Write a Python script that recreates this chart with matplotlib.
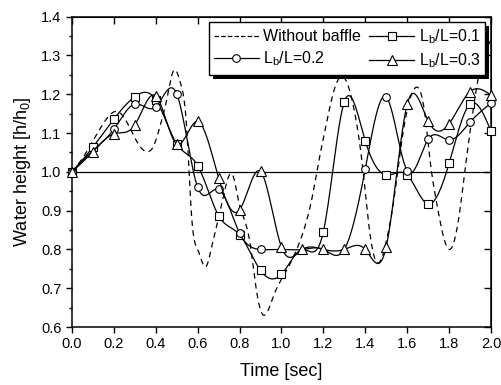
import numpy as np
import matplotlib
matplotlib.use('Agg')
import matplotlib.pyplot as plt
from matplotlib.lines import Line2D
from matplotlib.patches import Rectangle
from matplotlib.transforms import IdentityTransform

plt.rcParams['font.family'] = ['Liberation Sans', 'DejaVu Sans']
plt.rcParams['mathtext.fontset'] = 'custom'
plt.rcParams['mathtext.rm'] = 'Liberation Sans'
plt.rcParams['mathtext.it'] = 'Liberation Sans:italic'

# sampled times for the baffle cases
t = [0.0, 0.1, 0.2, 0.3, 0.4, 0.5, 0.6, 0.7, 0.8, 0.9, 1.0,
     1.1, 1.2, 1.3, 1.4, 1.5, 1.6, 1.7, 1.8, 1.9, 2.0]
h_01 = [1.000, 1.064, 1.136, 1.194, 1.186, 1.072, 1.016, 0.887, 0.838, 0.746, 0.736,
        0.800, 0.846, 1.181, 1.080, 0.992, 0.992, 0.917, 1.022, 1.175, 1.105]
h_02 = [1.000, 1.055, 1.110, 1.175, 1.168, 1.201, 0.960, 0.955, 0.842, 0.800, 0.800,
        0.800, 0.800, 0.800, 1.008, 1.193, 1.003, 1.084, 1.082, 1.128, 1.177]
h_03 = [1.000, 1.052, 1.098, 1.121, 1.196, 1.072, 1.130, 0.984, 0.902, 1.001, 0.806,
        0.800, 0.800, 0.800, 0.800, 0.807, 1.174, 1.131, 1.124, 1.207, 1.198]

# without baffle
t_nb = [0.0, 0.05, 0.1, 0.15, 0.22, 0.285, 0.325, 0.36, 0.388, 0.42, 0.452, 0.485,
        0.52, 0.547, 0.571, 0.6, 0.64, 0.667, 0.69, 0.722, 0.77, 0.794, 0.85, 0.88,
        0.913, 0.961, 1.017, 1.096, 1.144, 1.184, 1.208, 1.247, 1.287, 1.35, 1.39,
        1.42, 1.462, 1.502, 1.534, 1.566, 1.60, 1.637, 1.685, 1.709, 1.741, 1.78,
        1.804, 1.852, 1.876, 1.908, 1.947, 2.0]
h_nb = [1.000, 1.035, 1.080, 1.125, 1.155, 1.104, 1.065, 1.052, 1.065, 1.117, 1.186, 1.261,
        1.225, 1.117, 0.885, 0.800, 0.756, 0.807, 0.859, 0.936, 0.988, 0.928, 0.816, 0.696,
        0.631, 0.679, 0.739, 0.833, 0.928, 1.044, 1.108, 1.203, 1.246, 1.151, 1.000,
        0.850, 0.765, 0.825, 0.919, 1.048, 1.160, 1.216, 1.147, 1.031, 0.919, 0.820,
        0.800, 0.902, 1.005, 1.134, 1.263, 1.340]


def spline(x, y, n=600):
    # natural cubic spline, used only to draw smooth lines through the readings
    x = np.asarray(x, float)
    y = np.asarray(y, float)
    m = len(x)
    h = np.diff(x)
    A = np.zeros((m, m))
    b = np.zeros(m)
    A[0, 0] = A[-1, -1] = 1
    for i in range(1, m-1):
        A[i, i-1] = h[i-1]
        A[i, i] = 2*(h[i-1]+h[i])
        A[i, i+1] = h[i]
        b[i] = 3*((y[i+1]-y[i])/h[i] - (y[i]-y[i-1])/h[i-1])
    c = np.linalg.solve(A, b)
    bc = (y[1:]-y[:-1])/h - h*(2*c[:-1]+c[1:])/3
    d = (c[1:]-c[:-1])/(3*h)
    xs = np.linspace(x[0], x[-1], n)
    idx = np.clip(np.searchsorted(x, xs) - 1, 0, m-2)
    dx = xs - x[idx]
    return xs, y[idx] + bc[idx]*dx + c[idx]*dx**2 + d[idx]*dx**3


fig = plt.figure(figsize=(5.01, 3.85), dpi=100)
ax = fig.add_axes([0.1437, 0.1506, 0.8363, 0.806])

lw = 0.9
ax.axhline(1.0, color='k', lw=lw, zorder=1)

xs, ys = spline(t_nb, h_nb)
ax.plot(xs, ys, '--', color='k', lw=lw, dashes=(4.5, 3.5), zorder=2)

series = [(h_01, 's', [i for i in range(21) if i != 11]),
          (h_02, 'o', [i for i in range(21) if i not in (1, 10, 11, 12, 13)]),
          (h_03, '^', list(range(21)))]
for k, (hv, mk, every) in enumerate(series):
    xs, ys = spline(t, hv)
    ax.plot(xs, ys, '-', color='k', lw=lw, zorder=3+k)
    ax.plot(t, hv, ls='none', marker=mk, ms=5.5 if mk != '^' else 6.5, mfc='white',
            mec='k', mew=0.8, markevery=every, zorder=3+k, clip_on=False)

ax.set_xlim(0, 2.0)
ax.set_ylim(0.6, 1.4)
ax.set_xticks(np.arange(0, 2.01, 0.2))
ax.set_yticks(np.arange(0.6, 1.41, 0.1))
ax.set_yticks(np.arange(0.65, 1.4, 0.1), minor=True)
ax.xaxis.set_major_formatter(matplotlib.ticker.FormatStrFormatter('%.1f'))
ax.yaxis.set_major_formatter(matplotlib.ticker.FormatStrFormatter('%.1f'))
ax.tick_params(which='major', direction='out', length=4, width=1, labelsize=10.5)
ax.tick_params(which='minor', direction='out', length=2.5, width=1)
for s in ax.spines.values():
    s.set_linewidth(1.1)

top = ax.secondary_xaxis('top')
top.set_xticks(np.arange(0, 2.01, 0.2))
top.tick_params(direction='in', length=5, width=1, labeltop=False)
right = ax.secondary_yaxis('right')
right.set_yticks(np.arange(0.6, 1.41, 0.1))
right.tick_params(direction='in', length=5, width=1, labelright=False)

ax.set_xlabel('Time [sec]', fontsize=13, labelpad=8)
ax.set_ylabel('Water height [h/h$_0$]', fontsize=13, labelpad=6)

def handle(mk, ls, ms):
    return Line2D([], [], color='k', lw=lw, ls=ls, marker=mk, ms=ms,
                  mfc='white', mec='k', mew=0.8)

handles = [handle(None, '--', 0), handle('o', '-', 5.5),
           handle('s', '-', 5.5), handle('^', '-', 6.5)]
labels = ['Without baffle', 'L$_\\mathrm{b}$/L=0.2',
          'L$_\\mathrm{b}$/L=0.1', 'L$_\\mathrm{b}$/L=0.3']
leg = ax.legend(handles, labels, ncol=2, loc='upper right', fontsize=11.5,
                frameon=True, fancybox=False, edgecolor='k', framealpha=1,
                borderpad=0.3, labelspacing=0.35, handlelength=2.8,
                handletextpad=0.3, columnspacing=0.5, borderaxespad=0.35)
leg.get_frame().set_linewidth(1.0)
leg.set_zorder(10)

# solid black drop shadow under the legend box
fig.canvas.draw()
bb = leg.get_window_extent()
ax.add_patch(Rectangle((bb.x0 + 4, bb.y0 - 4), bb.width, bb.height,
                       transform=IdentityTransform(), facecolor='k',
                       edgecolor='none', zorder=9, clip_on=False))

fig.savefig('out.png', dpi=100)
